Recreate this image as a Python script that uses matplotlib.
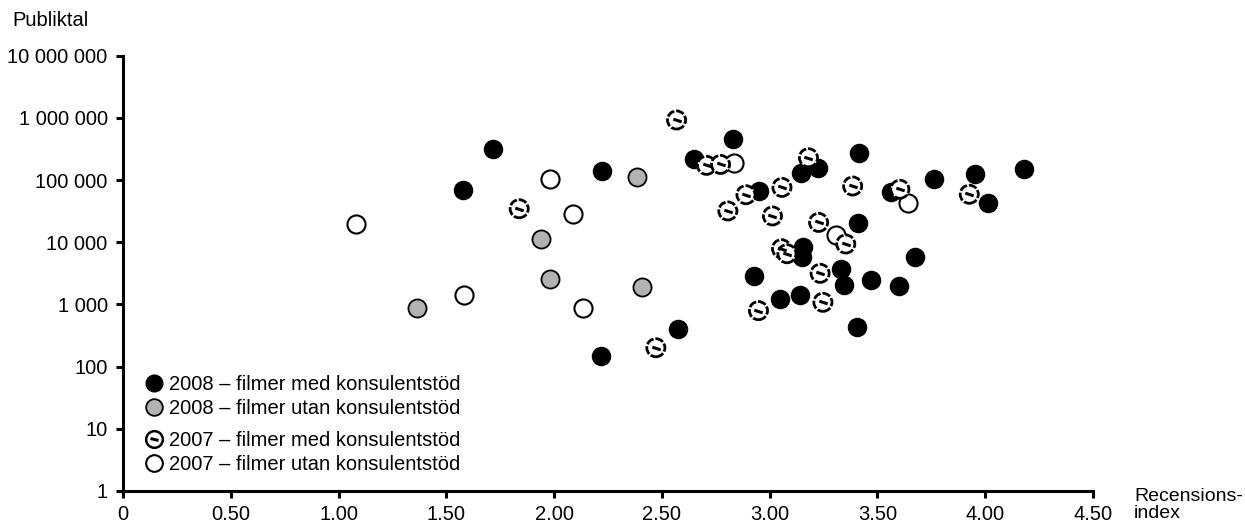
import matplotlib
matplotlib.use("Agg")
import matplotlib.pyplot as plt
from matplotlib.markers import MarkerStyle
from matplotlib.transforms import Affine2D
from matplotlib.lines import Line2D
from matplotlib.ticker import FixedLocator, FuncFormatter
from matplotlib.legend_handler import HandlerBase

plt.rcParams['font.family'] = ['Liberation Sans', 'DejaVu Sans']

# 2008 – filmer med konsulentstöd (black)
med08_x = [1.715, 1.578, 2.22, 2.217, 2.573, 2.65, 2.828, 2.951, 2.928, 3.049,
           3.143, 3.146, 3.222, 3.155, 3.149, 3.414, 3.41, 3.333, 3.343, 3.403,
           3.471, 3.562, 3.598, 3.675, 3.762, 3.952, 4.012, 4.178]
med08_y = [316000, 69000, 141000, 150, 400, 220000, 461000, 66000, 2900, 1220,
           1420, 131000, 158000, 8300, 5850, 274000, 20600, 3750, 2030, 430,
           2470, 65000, 1980, 5780, 102000, 125000, 42200, 150000]

# 2008 – filmer utan konsulentstöd (grey)
utan08_x = [1.362, 1.937, 1.98, 2.385, 2.41]
utan08_y = [890, 11100, 2600, 112000, 1880]

# 2007 – filmer med konsulentstöd (hatched)
med07_x = [2.568, 2.707, 2.772, 3.18, 1.838, 3.057, 3.385, 2.89, 2.806, 3.013,
           3.227, 3.353, 3.055, 3.08, 3.234, 3.247, 2.948, 2.472, 3.604, 3.926]
med07_y = [922000, 172000, 178000, 228000, 34500, 76000, 80000, 58000, 31800, 26400,
           20800, 9350, 7860, 6530, 3160, 1080, 794, 201, 71000, 59000]

# 2007 – filmer utan konsulentstöd (white)
utan07_x = [1.081, 1.583, 1.98, 2.089, 2.135, 2.834, 3.307, 3.643]
utan07_y = [19400, 1400, 105000, 28400, 865, 185000, 12900, 42200]

x_ticks = [0, 0.5, 1.0, 1.5, 2.0, 2.5, 3.0, 3.5, 4.0, 4.5]
y_ticks = [1, 10, 100, 1000, 10000, 100000, 1000000, 10000000]

labels = ["2008 – filmer med konsulentstöd", "2008 – filmer utan konsulentstöd",
          "2007 – filmer med konsulentstöd", "2007 – filmer utan konsulentstöd"]

FS = 14.5

fig = plt.figure(figsize=(12.45, 5.25), dpi=100)
ax = fig.add_axes([123/1245, 1-491/525, (1093-123)/1245, (491-55.6)/525])

S = 170
dash = MarkerStyle('_', transform=Affine2D().rotate_deg(-18))

ax.scatter(utan07_x, utan07_y, s=S, facecolor='white', edgecolor='black', linewidth=1.5, zorder=3)
ax.scatter(med07_x, med07_y, s=S, facecolor='white', edgecolor='black', linewidth=2.0,
           linestyle=(0, (3.0, 0.7)), zorder=4)
ax.scatter(med07_x, med07_y, s=40, marker=dash, color='black', linewidth=2.2, zorder=5)
ax.scatter(utan08_x, utan08_y, s=S, facecolor='#b2b2b2', edgecolor='black', linewidth=1.3, zorder=3)
ax.scatter(med08_x, med08_y, s=S, facecolor='black', edgecolor='black', linewidth=1, zorder=3)

ax.set_yscale('log')
ax.set_xlim(0, 4.5)
ax.set_ylim(1, 10000000)
ax.xaxis.set_major_locator(FixedLocator(x_ticks))
ax.yaxis.set_major_locator(FixedLocator(y_ticks))
ax.yaxis.set_minor_locator(FixedLocator([]))
ax.xaxis.set_major_formatter(FuncFormatter(lambda v, p: "0" if v == 0 else f"{v:.2f}"))
ax.yaxis.set_major_formatter(FuncFormatter(lambda v, p: f"{int(round(v)):,}".replace(",", " ")))

for s in ['top', 'right']:
    ax.spines[s].set_visible(False)
for s in ['left', 'bottom']:
    ax.spines[s].set_linewidth(2.2)
ax.tick_params(axis='both', direction='out', length=5, width=2.2, labelsize=FS)
ax.tick_params(axis='x', pad=5)
ax.tick_params(axis='y', pad=6)

fig.text(12/1245, 1-20/525, "Publiktal", fontsize=FS, ha='left', va='center')
fig.text(1134/1245, 1-505/525, "Recensions-\nindex", fontsize=14, ha='left', va='center',
         linespacing=1.0)

h1 = Line2D([], [], marker='o', linestyle='none', markersize=12, markerfacecolor='black',
            markeredgecolor='black')
h2 = Line2D([], [], marker='o', linestyle='none', markersize=12, markerfacecolor='#b2b2b2',
            markeredgecolor='black', markeredgewidth=1.3)
h4 = Line2D([], [], marker='o', linestyle='none', markersize=12, markerfacecolor='white',
            markeredgecolor='black', markeredgewidth=1.5)


class Hatched:
    pass


class HandlerHatched(HandlerBase):
    def create_artists(self, legend, orig_handle, xdescent, ydescent, width, height, fontsize, trans):
        cx = width / 2 - xdescent
        cy = height / 2 - ydescent
        c = Line2D([cx], [cy], marker='o', markersize=12, markerfacecolor='white',
                   markeredgecolor='black', markeredgewidth=1.8, linestyle='none', transform=trans)
        d = Line2D([cx], [cy], marker=dash, markersize=6, color='black', markeredgewidth=2.2,
                   linestyle='none', transform=trans)
        return [c, d]


h3 = Hatched()

common = dict(loc='upper left', frameon=False, fontsize=FS, handlelength=0.9,
              handletextpad=0.3, labelspacing=0.25, borderaxespad=0, borderpad=0)
leg1 = ax.legend([h1, h2], labels[:2], bbox_to_anchor=(22/970, 1-(375-55.6)/435.4), **common)
ax.add_artist(leg1)
leg2 = ax.legend([h3, h4], labels[2:], bbox_to_anchor=(22/970, 1-(431-55.6)/435.4),
                 handler_map={Hatched: HandlerHatched()}, **common)

fig.savefig("out.png", dpi=100)
